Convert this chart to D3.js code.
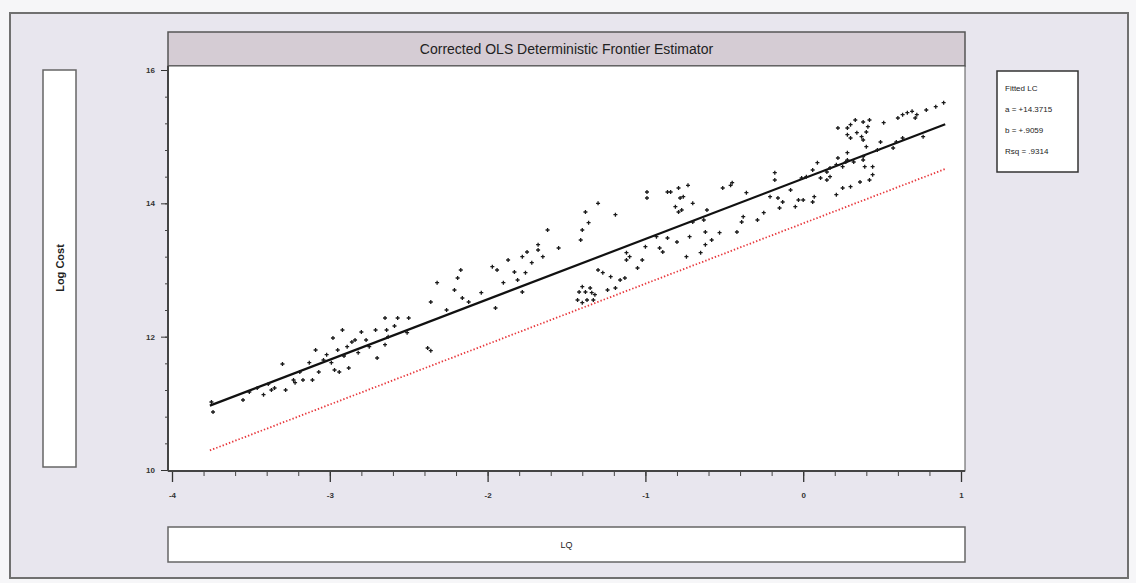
<!DOCTYPE html>
<html>
<head>
<meta charset="utf-8">
<script src="https://cdn.jsdelivr.net/npm/d3@7"></script>
<style>
html,body{margin:0;padding:0;background:#f6f6f8;}
svg{display:block;font-family:Arial,"Liberation Sans",sans-serif;}
</style>
</head>
<body>
<svg id="chart" width="1136" height="583"></svg>
<script>
// ---- data ----
const chartTitle = "Corrected OLS Deterministic Frontier Estimator";
const yTitle = "Log Cost";
const xTitle = "LQ";
const xTicks = [-4, -3, -2, -1, 0, 1];
const yTicks = [10, 12, 14, 16];
const legendLines = ["Fitted LC", "a = +14.3715", "b = +.9059", "Rsq = .9314"];
const fitIntercept = 14.3715;
const fitSlope = 0.9059;
const frontierIntercept = 13.70;
const lineRange = [-3.76, 0.90];

// LQ values of observations
const lq = [
 -3.75,-3.74,-3.55,-3.51,-3.46,-3.42,-3.39,-3.37,-3.35,-3.28,-3.23,-3.22,-3.19,-3.17,-3.11,-3.30,-3.13,-3.09,-3.07,-3.04,
 -3.02,-2.99,-2.97,-2.94,-2.91,-2.88,-2.98,-2.92,-2.86,-2.84,-2.80,-2.82,-2.77,-2.70,-2.71,-2.65,-2.64,-2.63,-2.59,-2.57,
 -2.50,-2.51,-2.65,-2.75,-2.89,-2.95,
 -2.38,-2.36,-2.36,-2.32,-2.26,-2.21,-2.19,-2.17,-2.16,-2.12,-2.04,-1.97,-1.94,-1.95,-1.90,-1.87,-1.83,-1.81,-1.78,-1.76,
 -1.78,-1.75,-1.72,-1.68,-1.68,-1.65,-1.62,-1.55,-1.41,-1.40,-1.36,-1.30,-1.27,-1.22,-1.24,-1.19,-1.40,-1.38,-1.35,-1.34,
 -1.43,-1.37,-1.32,-1.42,-1.33,-1.40,
 -1.38,-1.30,-1.19,-0.99,-0.99,-0.84,-0.81,-0.77,-0.76,-0.70,-0.61,-0.70,-0.63,-0.93,-0.86,-0.80,-0.72,-0.62,-0.62,-0.58,
 -0.53,-0.42,-0.39,-0.38,-1.00,-0.91,-0.89,-0.65,-0.74,-1.12,-1.10,-1.12,-1.02,-1.05,-1.16,-1.13,
 -0.79,-0.78,-0.86,-0.79,-0.73,-0.51,-0.46,-0.05,-0.29,
 0.84,0.89,0.72,0.66,0.60,0.51,0.42,0.41,0.38,0.33,0.30,0.22,0.28,0.34,0.37,0.40,0.76,0.63,0.59,0.57,
 0.49,0.47,0.40,0.28,0.22,0.28,0.32,0.38,0.39,0.25,0.21,0.17,0.15,0.09,0.11,0.15,0.17,0.06,0.02,-0.01,
 -0.08,-0.18,-0.18,-0.36,-0.45,-0.21,-0.16,-0.13,-0.15,-0.03,0.00,0.07,0.06,0.21,0.25,0.30,0.36,0.42,0.44,0.44,
 -0.25,
 0.71,0.63,0.28,0.30,0.38,0.27,0.38,0.78,0.69
];
// LC values of observations (same order)
const lc = [
 11.02,10.87,11.05,11.17,11.23,11.13,11.29,11.20,11.23,11.20,11.35,11.31,11.47,11.35,11.35,11.59,11.61,11.80,11.47,11.65,
 11.73,11.61,11.50,11.47,11.71,11.53,11.98,12.10,11.92,11.95,12.07,11.76,11.95,11.68,12.10,12.28,12.10,12.00,12.16,12.28,
 12.28,12.06,11.88,11.85,11.85,11.80,
 11.83,11.79,12.52,12.81,12.40,12.70,12.88,13.00,12.58,12.52,12.66,13.05,13.00,12.43,12.81,13.15,12.97,12.85,12.67,12.96,
 13.20,13.27,13.11,13.38,13.30,13.20,13.60,13.33,13.45,13.60,13.71,13.00,12.96,12.90,12.70,12.73,12.75,12.67,12.73,12.66,
 12.55,12.55,12.63,12.67,12.55,12.51,
 13.87,14.00,13.83,14.17,14.08,14.17,13.95,13.90,14.10,14.00,13.90,13.72,13.75,13.50,13.48,13.42,13.50,13.57,13.38,13.45,
 13.56,13.57,13.72,13.80,13.35,13.33,13.27,13.26,13.20,13.26,13.20,13.15,13.15,13.03,12.85,12.88,
 13.87,14.08,14.17,14.23,14.27,14.23,14.27,13.95,13.75,
 15.45,15.51,15.33,15.36,15.28,15.21,15.25,15.15,15.22,15.25,15.18,15.13,15.03,15.06,15.00,15.07,15.00,14.98,14.92,14.83,
 14.92,14.80,14.85,14.76,14.68,14.65,14.62,14.65,14.55,14.55,14.58,14.53,14.47,14.61,14.38,14.35,14.40,14.50,14.40,14.38,
 14.20,14.46,14.35,14.16,14.31,14.10,14.08,14.02,13.93,14.05,14.05,14.10,14.02,14.13,14.23,14.25,14.32,14.35,14.43,14.55,
 13.86,
 15.28,15.33,15.13,14.98,14.95,14.62,14.70,15.40,15.38
];

// ---- drawing ----
const svg = d3.select("#chart");
const plot = {left: 168, right: 965, top: 66, bottom: 471};

// outer frame
svg.append("rect").attr("x", 10).attr("y", 13).attr("width", 1118).attr("height", 565)
  .attr("fill", "#e8e6ee").attr("stroke", "#707070").attr("stroke-width", 2);

// title bar
svg.append("rect").attr("x", plot.left).attr("y", 32).attr("width", plot.right - plot.left).attr("height", plot.top - 32)
  .attr("fill", "#d5ccd4").attr("stroke", "#555").attr("stroke-width", 1.5);
svg.append("text").attr("x", (plot.left + plot.right) / 2).attr("y", 49)
  .attr("text-anchor", "middle").attr("dominant-baseline", "central")
  .attr("font-size", 14).attr("fill", "#222").text(chartTitle);

// plot area
svg.append("rect").attr("x", plot.left).attr("y", plot.top).attr("width", plot.right - plot.left).attr("height", plot.bottom - plot.top)
  .attr("fill", "#ffffff").attr("stroke", "#555").attr("stroke-width", 1);

// y title box
svg.append("rect").attr("x", 43).attr("y", 70).attr("width", 33).attr("height", 397)
  .attr("fill", "#ffffff").attr("stroke", "#666").attr("stroke-width", 1.5);
svg.append("text").attr("transform", "translate(59.5,268) rotate(-90)")
  .attr("text-anchor", "middle").attr("dominant-baseline", "central")
  .attr("font-size", 11).attr("font-weight", "bold").attr("fill", "#222").text(yTitle);

// x title box
svg.append("rect").attr("x", plot.left).attr("y", 527).attr("width", plot.right - plot.left).attr("height", 35)
  .attr("fill", "#ffffff").attr("stroke", "#666").attr("stroke-width", 1.5);
svg.append("text").attr("x", (plot.left + plot.right) / 2).attr("y", 545)
  .attr("text-anchor", "middle").attr("dominant-baseline", "central")
  .attr("font-size", 9).attr("fill", "#222").text(xTitle);

// scales
const x = d3.scaleLinear().domain([-4, 1]).range([172, 961]);
const y = d3.scaleLinear().domain([10, 16]).range([470, 70]);

// x axis: minor then major
const xMinor = d3.range(-4, 1.0001, 0.2).map(v => +v.toFixed(1));
svg.append("g").attr("transform", `translate(0,${plot.bottom})`)
  .call(d3.axisBottom(x).tickValues(xMinor).tickSize(5).tickFormat(""))
  .call(g => g.select(".domain").remove())
  .call(g => g.selectAll("line").attr("stroke", "#444"));
svg.append("g").attr("transform", `translate(0,${plot.bottom})`)
  .call(d3.axisBottom(x).tickValues(xTicks).tickSize(11).tickPadding(10).tickFormat(d => String(d)))
  .call(g => g.select(".domain").remove())
  .call(g => g.selectAll("line").attr("stroke", "#333").attr("stroke-width", 1.3))
  .call(g => g.selectAll("text").attr("font-size", 8).attr("font-weight", "bold").attr("fill", "#333").attr("font-family", "Arial, Liberation Sans, sans-serif"));
svg.append("line").attr("x1", plot.left).attr("x2", plot.right).attr("y1", plot.bottom).attr("y2", plot.bottom)
  .attr("stroke", "#444").attr("stroke-width", 2);

// y axis
const yMinor = d3.range(10, 16.0001, 0.4).map(v => +v.toFixed(1));
svg.append("g").attr("transform", `translate(${plot.left},0)`)
  .call(d3.axisLeft(y).tickValues(yMinor).tickSize(3).tickFormat(""))
  .call(g => g.select(".domain").remove())
  .call(g => g.selectAll("line").attr("stroke", "#444"));
svg.append("g").attr("transform", `translate(${plot.left},0)`)
  .call(d3.axisLeft(y).tickValues(yTicks).tickSize(7).tickPadding(6).tickFormat(d => String(d)))
  .call(g => g.select(".domain").remove())
  .call(g => g.selectAll("line").attr("stroke", "#333"))
  .call(g => g.selectAll("text").attr("font-size", 8).attr("font-weight", "bold").attr("fill", "#333").attr("font-family", "Arial, Liberation Sans, sans-serif"));
svg.append("line").attr("x1", plot.left).attr("x2", plot.left).attr("y1", plot.top).attr("y2", plot.bottom)
  .attr("stroke", "#444").attr("stroke-width", 2);

// fitted + frontier lines
const lineGen = d3.line().x(d => x(d[0])).y(d => y(d[1]));
const fitPts = lineRange.map(v => [v, fitIntercept + fitSlope * v]);
const frontPts = lineRange.map(v => [v, frontierIntercept + fitSlope * v]);
svg.append("path").attr("d", lineGen(frontPts)).attr("fill", "none")
  .attr("stroke", "#e8383c").attr("stroke-width", 1.8).attr("stroke-dasharray", "1.4,2");
svg.append("path").attr("d", lineGen(fitPts)).attr("fill", "none")
  .attr("stroke", "#111").attr("stroke-width", 2.2);

// observations as small crosses
const obs = lq.map((v, i) => [v, lc[i]]);
svg.append("g").selectAll("path").data(obs).join("path")
  .attr("d", d => {
    const cx = x(d[0]), cy = y(d[1]), r = 2;
    return `M${cx - r},${cy}H${cx + r}M${cx},${cy - r}V${cy + r}`;
  })
  .attr("stroke", "#1a1a1a").attr("stroke-width", 1.3).attr("fill", "none");

// legend box
svg.append("rect").attr("x", 997).attr("y", 71).attr("width", 81).attr("height", 101)
  .attr("fill", "#ffffff").attr("stroke", "#333").attr("stroke-width", 1.5);
svg.append("g").selectAll("text").data(legendLines).join("text")
  .attr("x", 1005).attr("y", (d, i) => 88 + i * 21)
  .attr("dominant-baseline", "central")
  .attr("font-size", 8).attr("fill", "#222").text(d => d);
</script>
</body>
</html>
